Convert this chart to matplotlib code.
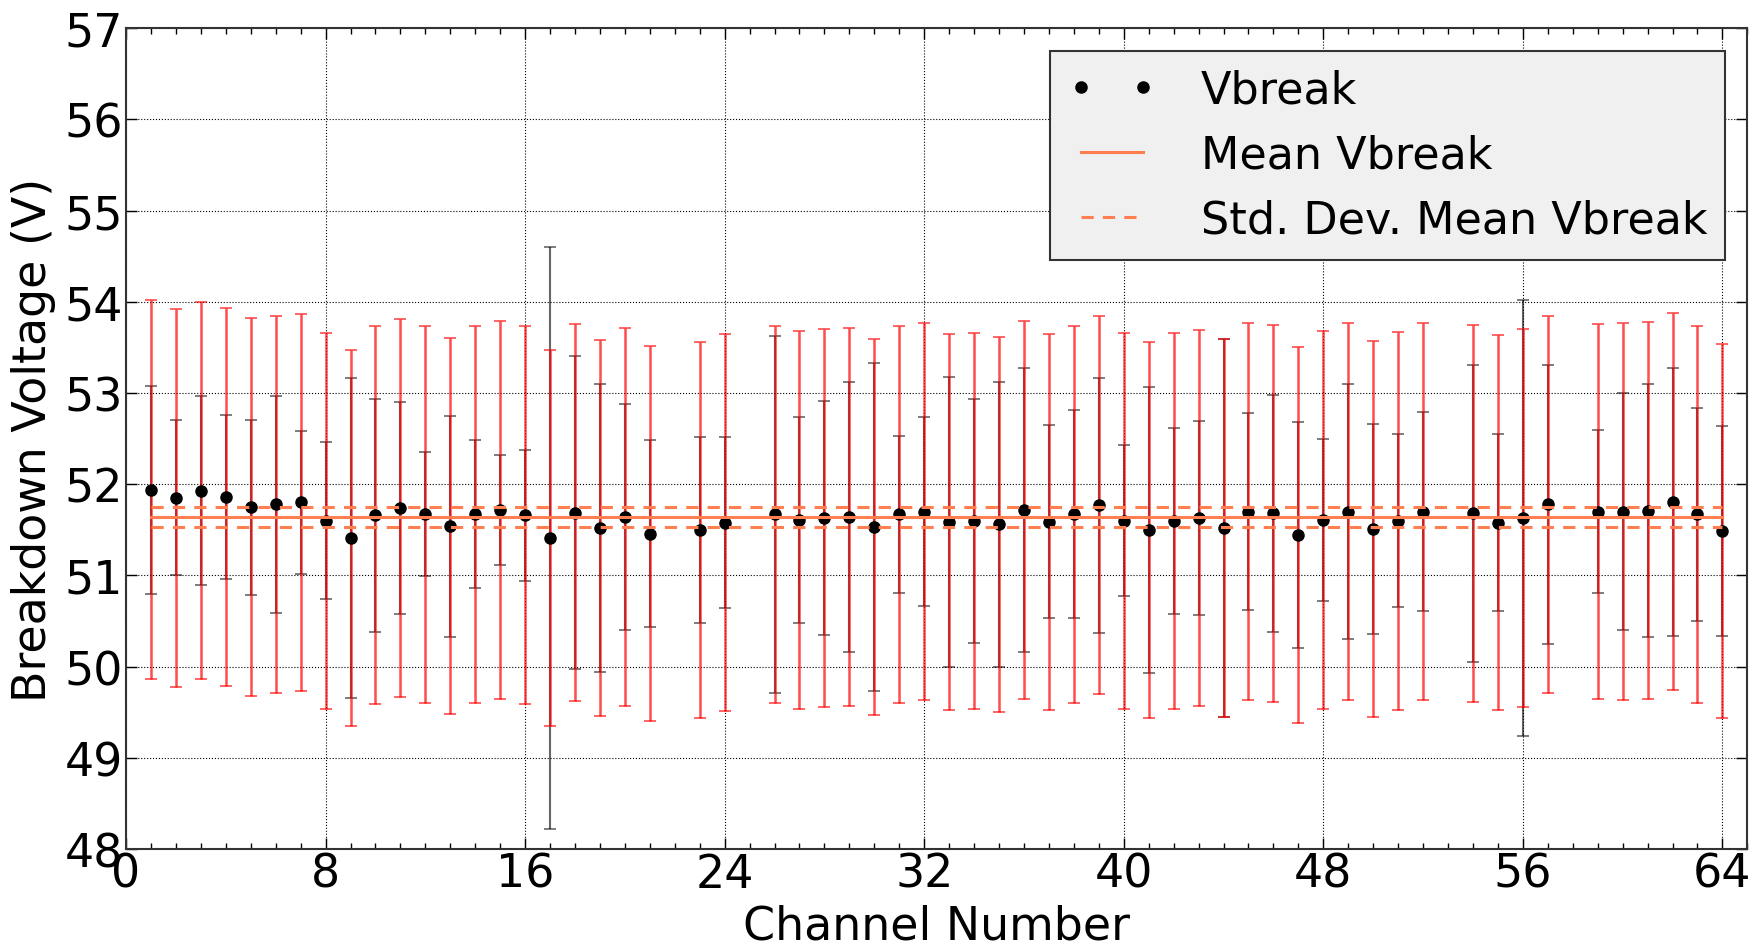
import numpy as np
import matplotlib
matplotlib.use("Agg")
import matplotlib.pyplot as plt
import matplotlib.ticker as ticker

# channels (22, 25, 53 and 58 are missing)
channels = [1, 2, 3, 4, 5, 6, 7, 8, 9, 10, 11, 12, 13, 14, 15, 16, 17, 18, 19, 20,
            21, 23, 24, 26, 27, 28, 29, 30, 31, 32, 33, 34, 35, 36, 37, 38, 39, 40,
            41, 42, 43, 44, 45, 46, 47, 48, 49, 50, 51, 52, 54, 55, 56, 57, 59, 60,
            61, 62, 63, 64]

vbreak = [51.94, 51.85, 51.93, 51.86, 51.75, 51.78, 51.80, 51.60, 51.41, 51.66,
          51.74, 51.67, 51.54, 51.67, 51.72, 51.66, 51.41, 51.69, 51.52, 51.64,
          51.46, 51.50, 51.58, 51.67, 51.61, 51.63, 51.64, 51.53, 51.67, 51.70,
          51.59, 51.60, 51.56, 51.72, 51.59, 51.67, 51.77, 51.60, 51.50, 51.60,
          51.63, 51.52, 51.70, 51.68, 51.44, 51.61, 51.70, 51.51, 51.60, 51.70,
          51.68, 51.58, 51.63, 51.78, 51.70, 51.70, 51.71, 51.81, 51.67, 51.49]

# black (fit) error bars
err_fit = [1.14, 0.85, 1.04, 0.90, 0.96, 1.19, 0.78, 0.86, 1.75, 1.28,
           1.16, 0.68, 1.21, 0.81, 0.60, 0.72, 3.19, 1.72, 1.58, 1.24,
           1.02, 1.02, 0.94, 1.96, 1.13, 1.28, 1.48, 1.80, 0.86, 1.04,
           1.59, 1.34, 1.56, 1.56, 1.06, 1.14, 1.40, 0.83, 1.57, 1.02,
           1.06, 2.07, 1.08, 1.30, 1.24, 0.89, 1.40, 1.15, 0.95, 1.09,
           1.63, 0.97, 2.39, 1.53, 0.89, 1.30, 1.39, 1.47, 1.17, 1.15]

# red (total) error bars
err_total = [2.08, 2.07, 2.07, 2.07, 2.07, 2.07, 2.07, 2.06, 2.06, 2.07,
             2.07, 2.07, 2.06, 2.07, 2.07, 2.07, 2.06, 2.07, 2.06, 2.07,
             2.06, 2.06, 2.07, 2.07, 2.07, 2.07, 2.07, 2.06, 2.07, 2.07,
             2.06, 2.06, 2.06, 2.07, 2.06, 2.07, 2.07, 2.06, 2.06, 2.06,
             2.06, 2.07, 2.07, 2.07, 2.06, 2.07, 2.07, 2.06, 2.07, 2.07,
             2.07, 2.06, 2.07, 2.07, 2.06, 2.07, 2.07, 2.07, 2.07, 2.05]

mean_vbreak = 51.644
std_mean_vbreak = 0.112

plt.rcParams["font.family"] = "DejaVu Sans"

fig = plt.figure(figsize=(17.65, 9.45), dpi=100)
ax = fig.add_axes([0.0714, 0.1005, 0.9186, 0.8685])

ax.errorbar(channels, vbreak, yerr=err_fit, fmt="none", ecolor="black",
            alpha=0.6, elinewidth=1.5, capsize=4, capthick=1.2, zorder=2)
ax.errorbar(channels, vbreak, yerr=err_total, fmt="none", ecolor="red",
            alpha=0.7, elinewidth=1.8, capsize=4, capthick=1.2, zorder=3)
ax.plot(channels, vbreak, "o", color="black", markersize=8, zorder=4,
        label="Vbreak")

x_line = [channels[0], channels[-1]]
ax.plot(x_line, [mean_vbreak] * 2, "-", color="coral", lw=2.2, zorder=5,
        label="Mean Vbreak")
ax.plot(x_line, [mean_vbreak + std_mean_vbreak] * 2, "--", color="coral",
        lw=2.2, dashes=(4, 3), zorder=5, label="Std. Dev. Mean Vbreak")
ax.plot(x_line, [mean_vbreak - std_mean_vbreak] * 2, "--", color="coral",
        lw=2.2, dashes=(4, 3), zorder=5)

ax.set_xlim(0, 65)
ax.set_ylim(48, 57)
ax.xaxis.set_major_locator(ticker.MultipleLocator(8))
ax.xaxis.set_minor_locator(ticker.MultipleLocator(1))
ax.yaxis.set_major_locator(ticker.MultipleLocator(1))
ax.tick_params(which="both", direction="in", top=True, right=True,
               labelsize=33, pad=2)
ax.tick_params(which="major", length=8, width=1)
ax.tick_params(which="minor", length=4, width=1)
ax.grid(True, which="major", color="black", linestyle=":", linewidth=0.8)
for s in ax.spines.values():
    s.set_linewidth(1.5)
    s.set_color("#333333")

ax.set_xlabel("Channel Number", fontsize=33, labelpad=5)
ax.set_ylabel("Breakdown Voltage (V)", fontsize=33, labelpad=6)

leg = ax.legend(loc="upper right", numpoints=2, fontsize=32, fancybox=False,
                borderaxespad=0.5, handlelength=2.0, handletextpad=1.0,
                framealpha=1)
leg.get_frame().set_facecolor("#f0f0f0")
leg.get_frame().set_edgecolor("#333333")
leg.get_frame().set_linewidth(1.5)

plt.savefig("out.png", dpi=100)
